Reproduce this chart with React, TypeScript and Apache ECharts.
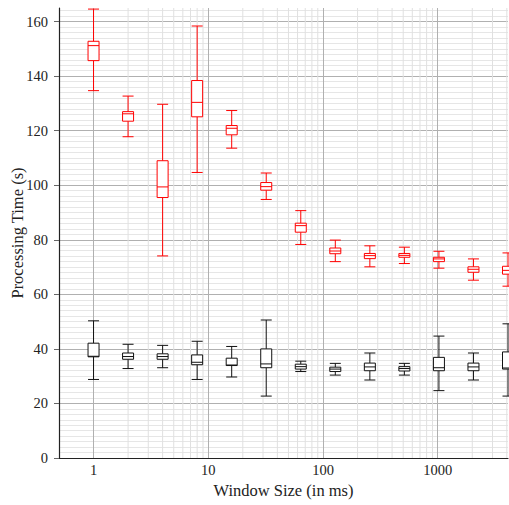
import React, { useEffect, useRef } from "react";
import * as echarts from "echarts";

// Window sizes (ms) on a log axis
const windowSizes = [1, 2, 4, 8, 16, 32, 64, 128, 256, 512, 1024, 2048, 4096];

// [min, Q1, median, Q3, max] per window size
const redBoxes = [
  [134.7, 145.7, 151.2, 152.8, 164.6],
  [117.8, 123.5, 126.2, 127.0, 132.7],
  [74.1, 95.5, 99.4, 109.0, 129.7],
  [104.7, 125.1, 130.4, 138.4, 158.4],
  [113.6, 118.5, 120.9, 121.9, 127.4],
  [94.8, 98.2, 99.5, 101.0, 104.5],
  [78.3, 82.8, 85.2, 86.1, 90.7],
  [72.0, 74.9, 75.9, 77.0, 79.9],
  [70.1, 73.1, 74.2, 75.0, 77.8],
  [71.3, 73.6, 74.3, 75.0, 77.3],
  [69.6, 72.0, 73.0, 73.6, 75.8],
  [65.2, 68.1, 69.2, 70.1, 73.0],
  [63.0, 67.4, 68.8, 70.3, 75.2],
];

const blackBoxes = [
  [28.8, 37.1, 37.3, 42.1, 50.3],
  [32.8, 36.2, 37.2, 38.5, 41.7],
  [33.1, 36.2, 37.2, 38.2, 41.3],
  [28.8, 34.2, 35.1, 37.8, 42.8],
  [29.7, 33.9, 34.1, 36.6, 40.9],
  [22.7, 33.1, 34.5, 40.0, 50.6],
  [31.7, 32.6, 33.5, 34.4, 35.5],
  [30.4, 31.7, 32.6, 33.3, 34.7],
  [28.6, 32.0, 33.4, 34.8, 38.5],
  [30.4, 31.9, 32.8, 33.5, 34.7],
  [24.7, 32.0, 33.1, 36.9, 44.7],
  [28.6, 32.0, 33.4, 34.8, 38.5],
  [22.7, 32.6, 33.0, 38.9, 49.2],
];

// minor vertical grid positions (log axis)
const minorGridX = [
  2, 3, 4, 5, 6, 7, 8, 9,
  20, 30, 40, 50, 60, 70, 80, 90,
  200, 300, 400, 500, 600, 700, 800, 900,
  2000, 3000, 4000,
];

const X_MIN = 0.5;
const X_MAX = 4096;
const Y_MIN = 0;
const Y_MAX = 165;
const Y_STEP = 20;

const FONT = "'Liberation Serif', 'DejaVu Serif', serif";

function boxRender(color: string) {
  return (params: any, api: any) => {
    const x = api.value(0);
    const cx = api.coord([x, api.value(1)])[0];
    const yMin = api.coord([x, api.value(1)])[1];
    const yQ1 = api.coord([x, api.value(2)])[1];
    const yMed = api.coord([x, api.value(3)])[1];
    const yQ3 = api.coord([x, api.value(4)])[1];
    const yMax = api.coord([x, api.value(5)])[1];
    const hw = 5.5;
    const style = { stroke: color, lineWidth: 1, fill: null };
    return {
      type: "group",
      children: [
        { type: "line", shape: { x1: cx, y1: yMax, x2: cx, y2: yQ3 }, style },
        { type: "line", shape: { x1: cx, y1: yQ1, x2: cx, y2: yMin }, style },
        { type: "line", shape: { x1: cx - hw, y1: yMax, x2: cx + hw, y2: yMax }, style },
        { type: "line", shape: { x1: cx - hw, y1: yMin, x2: cx + hw, y2: yMin }, style },
        {
          type: "rect",
          shape: { x: cx - hw, y: yQ3, width: 2 * hw, height: yQ1 - yQ3 },
          style: { stroke: color, lineWidth: 1, fill: "#ffffff" },
        },
        { type: "line", shape: { x1: cx - hw, y1: yMed, x2: cx + hw, y2: yMed }, style },
      ],
    };
  };
}

export default function App() {
  const ref = useRef<HTMLDivElement>(null);

  useEffect(() => {
    if (!ref.current) return;
    const chart = echarts.init(ref.current, null, { renderer: "svg" });

    const redData = windowSizes.map((w, i) => [w, ...redBoxes[i]]);
    const blackData = windowSizes.map((w, i) => [w, ...blackBoxes[i]]);

    chart.setOption({
      animation: false,
      backgroundColor: "#ffffff",
      grid: {
        left: 59,
        right: 1,
        top: 8,
        bottom: 47,
        containLabel: false,
        outerBoundsMode: "none",
      },
      xAxis: {
        type: "log",
        logBase: 10,
        min: X_MIN,
        max: X_MAX,
        name: "Window Size (in ms)",
        nameLocation: "middle",
        nameGap: 24,
        nameMoveOverlap: false,
        nameTextStyle: { fontFamily: FONT, fontSize: 16.5, color: "#222" },
        axisLine: { show: true, onZero: false, lineStyle: { color: "#222", width: 1.2 } },
        axisTick: { show: false },
        axisLabel: {
          fontFamily: FONT,
          fontSize: 14.5,
          color: "#222",
          margin: 4,
          showMinLabel: false,
          showMaxLabel: false,
          formatter: (v: number) => String(Math.round(v)),
        },
        splitLine: {
          show: true,
          showMinLine: false,
          showMaxLine: false,
          lineStyle: { color: "#b0b0b0", width: 1 },
        },
      },
      yAxis: {
        type: "value",
        min: Y_MIN,
        max: Y_MAX,
        interval: Y_STEP,
        name: "Processing Time (s)",
        nameLocation: "middle",
        nameGap: 33,
        nameMoveOverlap: false,
        nameTextStyle: { fontFamily: FONT, fontSize: 16.5, color: "#222" },
        axisLine: { show: true, lineStyle: { color: "#222", width: 1.2 } },
        axisTick: { show: true, length: 5, lineStyle: { color: "#666" } },
        axisLabel: {
          fontFamily: FONT,
          fontSize: 14.5,
          color: "#222",
          margin: 11,
          showMaxLabel: false,
        },
        splitLine: {
          show: true,
          showMinLine: false,
          showMaxLine: false,
          lineStyle: { color: "#b0b0b0", width: 1 },
        },
        minorTick: { show: false, splitNumber: 10 },
        minorSplitLine: { show: true, lineStyle: { color: "#e6e6e6", width: 1 } },
      },
      series: [
        {
          type: "custom",
          name: "minorGrid",
          silent: true,
          z: 1,
          data: minorGridX.map((v) => [v, 0]),
          encode: { x: 0, y: 1 },
          renderItem: (params: any, api: any) => {
            const cs = params.coordSys;
            const px = api.coord([api.value(0), 0])[0];
            return {
              type: "line",
              shape: { x1: px, y1: cs.y, x2: px, y2: cs.y + cs.height },
              style: { stroke: "#e0e0e0", lineWidth: 1 },
            };
          },
        },
        {
          type: "custom",
          name: "red",
          z: 3,
          clip: false,
          data: redData,
          encode: { x: 0, y: [1, 2, 3, 4, 5] },
          renderItem: boxRender("#ff0000"),
        },
        {
          type: "custom",
          name: "black",
          z: 3,
          clip: false,
          data: blackData,
          encode: { x: 0, y: [1, 2, 3, 4, 5] },
          renderItem: boxRender("#111111"),
        },
      ],
    });

    return () => chart.dispose();
  }, []);

  return (
    <div
      ref={ref}
      style={{ position: "fixed", left: 0, top: 0, width: 509, height: 505 }}
    />
  );
}
